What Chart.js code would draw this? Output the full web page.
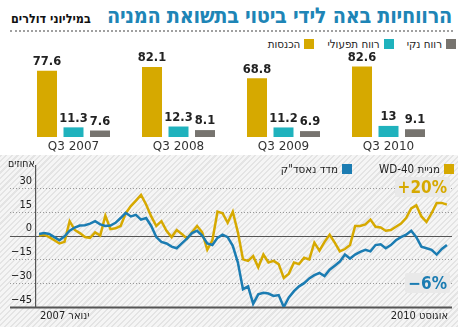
<!DOCTYPE html>
<html lang="he">
<head>
<meta charset="utf-8">
<script src="https://cdn.jsdelivr.net/npm/chart.js@4/dist/chart.umd.min.js"></script>
<style>
  html,body{margin:0;padding:0;background:#fff;}
  body{width:458px;height:327px;position:relative;overflow:hidden;font-family:"DejaVu Sans",sans-serif;}
  .abs{position:absolute;}
  #title{right:6px;top:3px;font:bold 21.5px "DejaVu Sans Condensed","DejaVu Sans",sans-serif;color:#1e85b6;direction:rtl;white-space:nowrap;letter-spacing:-0.3px;}
  #sub{left:11px;top:11px;font:bold 12.5px "DejaVu Sans Condensed","DejaVu Sans",sans-serif;color:#111;direction:rtl;white-space:nowrap;}
  #dots{left:10px;top:30px;width:443px;height:0;border-top:2px dotted #a0a0a0;}
  .leg{direction:rtl;display:flex;align-items:center;gap:0;font:11.5px "DejaVu Sans Condensed","DejaVu Sans",sans-serif;color:#222;white-space:nowrap;}
  .sq{display:inline-block;width:10px;height:10px;margin-left:4px;}
  .item{display:flex;align-items:center;margin-left:13px;}
  #leg1{right:2px;top:37px;}
  #panel{left:0;top:155px;width:458px;height:172px;background:repeating-linear-gradient(135deg,#e4e4e4 0px,#e4e4e4 1.5px,#f5f5f5 1.5px,#f5f5f5 4px);}
  #leg2{right:4px;top:162px;}
  #units{left:8px;top:157px;font:10.5px "DejaVu Sans Condensed","DejaVu Sans",sans-serif;color:#222;direction:rtl;}
  .big{font:bold 17px "DejaVu Sans Condensed","DejaVu Sans",sans-serif;background:#e9e9e9;padding:0 3px;border-radius:2px;line-height:20px;}
  #p20{right:8px;top:177px;color:#d6a900;}
  #m6{right:8px;top:273px;color:#1b7cb2;}
  .date{font:11px "DejaVu Sans Condensed","DejaVu Sans",sans-serif;color:#222;direction:rtl;white-space:nowrap;}
  #d1{left:40px;top:309px;}
  #d2{right:10px;top:309px;}
</style>
</head>
<body>
<div id="panel" class="abs"></div>
<div id="title" class="abs">הרווחיות באה לידי ביטוי בתשואת המניה</div>
<div id="sub" class="abs">במיליוני דולרים</div>
<div id="dots" class="abs"></div>
<div id="leg1" class="abs leg">
  <span class="item"><span class="sq" style="background:#77746f"></span>רווח נקי</span>
  <span class="item"><span class="sq" style="background:#1fb2bd"></span>רווח תפעולי</span>
  <span class="item"><span class="sq" style="background:#d6a900"></span>הכנסות</span>
</div>
<canvas id="bar" class="abs" style="left:0;top:0;" width="458" height="155"></canvas>
<canvas id="line" class="abs" style="left:0;top:155px;" width="458" height="172"></canvas>
<div id="leg2" class="abs leg">
  <span class="item"><span class="sq" style="background:#d6a900"></span>מניית WD-40</span>
  <span class="item" style="margin-left:10px;margin-right:14px"><span class="sq" style="background:#1b7cb2"></span>מדד נאסד"ק</span>
</div>
<div id="units" class="abs">אחוזים</div>
<div id="p20" class="abs big">+20%</div>
<div id="m6" class="abs big">−6%</div>
<div id="d1" class="abs date">ינואר 2007</div>
<div id="d2" class="abs date">אוגוסט 2010</div>

<script>
// ---- Bar chart data (millions of dollars) ----
const quarters = ['Q3 2007','Q3 2008','Q3 2009','Q3 2010'];
const revenue = [77.6, 82.1, 68.8, 82.6];
const operatingProfit = [11.3, 12.3, 11.2, 13];
const netProfit = [7.6, 8.1, 6.9, 9.1];

// ---- Line chart data (% change since Jan 2007, sampled through Aug 2010) ----
const wd40 = [0,0.5,-1,-3,-5,-4,9,3.5,1.5,-1,-1.5,2,0,12.5,4,4.5,6,14,18.5,22,25.6,19.5,12,6,9,3,-1,3.5,1,-2,2,6,2,-9,-3,15,14,8,15,2,-15,-16,-13,-20,-12,-17,-16,-18,-26.7,-24,-17,-18,-14,-15,-4.5,-9.5,-4,0.5,-4.5,-10,-8.5,-6,6,6,7,10,5.5,5,3,3.5,5.5,7.5,11,17,19,12,8.5,14,20.5,20.5,19.4];
const nasdaq = [1,1.5,1,-1,-3,-0.5,3,5,6.3,6.5,7.5,9,7,6,6.3,8,11,14.3,12,13,10,11,6,-1,-4,-5,-7,-8,-5,-2,1.5,3,0,-5,-6,-1.5,0.5,-1,-6.5,-17,-33.8,-32,-43,-37,-36,-36.5,-38,-37.5,-45,-39,-35,-32,-30,-27,-25,-23.6,-25.5,-21.5,-19,-16.4,-12,-14.5,-12,-10.3,-9,-10,-6,-5.5,-8,-6,-3,-1,0.5,3,-1,-7,-8,-9,-12,-8.5,-6];
const yTicks = [30,15,0,-15,-30,-45];

const GOLD='#d6a900', TEAL='#1fb2bd', GRAY='#77746f', BLUE='#1b7cb2';

// ---- Bar chart ----
const barLabels = {
  id:'barLabels',
  afterDatasetsDraw(chart){
    const ctx=chart.ctx;
    ctx.save();
    ctx.font='bold 11.5px "DejaVu Sans", sans-serif';
    ctx.fillStyle='#222';
    ctx.textAlign='center';
    ctx.textBaseline='bottom';
    chart.data.datasets.forEach((ds,di)=>{
      chart.getDatasetMeta(di).data.forEach((el,i)=>{
        ctx.fillText(String(ds.data[i]), el.x, el.y-3);
      });
    });
    ctx.restore();
  }
};
new Chart(document.getElementById('bar'),{
  type:'bar',
  data:{labels:quarters,datasets:[
    {label:'הכנסות',data:revenue,backgroundColor:GOLD},
    {label:'רווח תפעולי',data:operatingProfit,backgroundColor:TEAL},
    {label:'רווח נקי',data:netProfit,backgroundColor:GRAY}
  ]},
  options:{
    responsive:false,animation:false,
    layout:{padding:{left:21,right:17,top:50,bottom:0}},
    categoryPercentage:0.757,barPercentage:0.755,
    plugins:{legend:{display:false},tooltip:{enabled:false}},
    scales:{
      x:{grid:{display:false,drawTicks:false},border:{display:false},
         ticks:{font:{family:'DejaVu Sans',size:12},color:'#333',padding:3,maxRotation:0},
         afterFit(s){s.height=18;}},
      y:{display:false,min:0,max:102}
    }
  },
  plugins:[barLabels]
});

// ---- Line chart ----
const gridPlugin = {
  id:'gridPlugin',
  beforeDatasetsDraw(chart){
    const ctx=chart.ctx, y=chart.scales.y, a=chart.chartArea;
    ctx.save();
    yTicks.forEach(v=>{
      const py=Math.round(y.getPixelForValue(v))+0.5;
      ctx.beginPath();
      if(v===0){ctx.setLineDash([]);ctx.strokeStyle='#555';ctx.lineWidth=1.2;}
      else if(v===-45){ctx.setLineDash([]);ctx.strokeStyle='#555';ctx.lineWidth=2;}
      else {ctx.setLineDash([1,2]);ctx.strokeStyle='#999';ctx.lineWidth=1;}
      ctx.moveTo(10,py);ctx.lineTo(a.right,py);ctx.stroke();
    });
    ctx.restore();
  }
};
const pts = arr => arr.map((v,i)=>({x:i,y:v}));
new Chart(document.getElementById('line'),{
  type:'line',
  data:{datasets:[
    {label:'מניית WD-40',data:pts(wd40),borderColor:GOLD,borderWidth:2.5,pointRadius:0,tension:0,order:2},
    {label:'מדד נאסד"ק',data:pts(nasdaq),borderColor:BLUE,borderWidth:2.5,pointRadius:0,tension:0,order:1}
  ]},
  options:{
    responsive:false,animation:false,
    layout:{padding:{left:0,right:6,top:7,bottom:20}},
    plugins:{legend:{display:false},tooltip:{enabled:false}},
    scales:{
      x:{type:'linear',display:false,min:-0.6,max:81},
      y:{min:-45,max:44,
         afterBuildTicks(s){s.ticks=yTicks.map(v=>({value:v}));},
         afterFit(s){s.width=36;},
         grid:{display:false,drawTicks:false},
         border:{display:true,color:'#555',width:1.2},
         ticks:{padding:4,labelOffset:-7,color:'#222',
                font:{family:'DejaVu Sans Condensed',size:11},
                callback:v=>String(v).replace('-','−')}
      }
    }
  },
  plugins:[gridPlugin]
});
</script>
</body>
</html>
